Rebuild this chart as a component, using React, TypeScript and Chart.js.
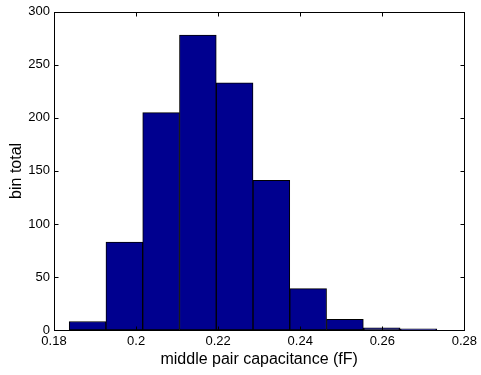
import React, { useEffect, useRef } from "react";
import { Chart, registerables } from "chart.js";

Chart.register(...registerables);

// bin centres (fF) and counts
const binCenters = [0.18818, 0.19714, 0.2061, 0.21506, 0.22402, 0.23298, 0.24194, 0.2509, 0.25986, 0.26882];
const binCounts = [8, 83, 205, 278, 233, 141, 39, 10, 2, 1];
const xTicks = [0.18, 0.2, 0.22, 0.24, 0.26, 0.28];
const yTicks = [0, 50, 100, 150, 200, 250, 300];

const FONT = "'Liberation Sans', Arial, Helvetica, sans-serif";

const boxPlugin = {
  id: "matlabBox",
  afterDraw(chart: any) {
    const { ctx, chartArea } = chart;
    const xs = chart.scales.x;
    const ys = chart.scales.y;
    const l = Math.round(chartArea.left) + 0.5;
    const r = Math.round(chartArea.right) + 0.5;
    const t = Math.round(chartArea.top) + 0.5;
    const b = Math.round(chartArea.bottom) + 0.5;
    ctx.save();
    ctx.strokeStyle = "#000";
    ctx.lineWidth = 1;
    ctx.strokeRect(l, t, r - l, b - t);
    const len = 4;
    ctx.beginPath();
    xTicks.forEach((v) => {
      const px = Math.round(xs.getPixelForValue(v)) + 0.5;
      ctx.moveTo(px, b);
      ctx.lineTo(px, b - len);
      ctx.moveTo(px, t);
      ctx.lineTo(px, t + len);
    });
    yTicks.forEach((v) => {
      const py = Math.round(ys.getPixelForValue(v)) + 0.5;
      ctx.moveTo(l, py);
      ctx.lineTo(l + len, py);
      ctx.moveTo(r, py);
      ctx.lineTo(r - len, py);
    });
    ctx.stroke();
    ctx.restore();
  },
};

export default function App() {
  const ref = useRef<HTMLCanvasElement>(null);
  useEffect(() => {
    if (!ref.current) return;
    const chart = new Chart(ref.current, {
      type: "bar",
      data: {
        datasets: [
          {
            data: binCenters.map((c, i) => ({ x: c, y: binCounts[i] })),
            backgroundColor: "rgb(0,0,143)",
            borderColor: "#000",
            borderWidth: 1,
            borderSkipped: false,
            barPercentage: 1,
            categoryPercentage: 1,
          },
        ],
      },
      options: {
        responsive: false,
        animation: false,
        devicePixelRatio: 1,
        layout: { padding: { top: 5, right: 14, left: 0, bottom: 0 } },
        plugins: { legend: { display: false }, tooltip: { enabled: false } },
        scales: {
          x: {
            type: "linear",
            min: 0.18,
            max: 0.28,
            offset: false,
            afterBuildTicks: (s: any) => {
              s.ticks = xTicks.map((v) => ({ value: v }));
            },
            afterFit: (s: any) => {
              s.height = 45;
            },
            grid: { display: false, drawTicks: false },
            border: { display: false },
            ticks: {
              padding: 4,
              color: "#000",
              font: { family: FONT, size: 13 },
              maxRotation: 0,
              callback: (v: any) => String(Number(Number(v).toFixed(2))),
            },
            title: {
              display: true,
              text: "middle pair capacitance (fF)",
              color: "#000",
              font: { family: FONT, size: 16 },
              padding: { top: 0, bottom: 6 },
            },
          },
          y: {
            min: 0,
            max: 300,
            afterBuildTicks: (s: any) => {
              s.ticks = yTicks.map((v) => ({ value: v }));
            },
            afterFit: (s: any) => {
              s.width = 54;
            },
            grid: { display: false, drawTicks: false },
            border: { display: false },
            ticks: {
              padding: 4,
              color: "#000",
              font: { family: FONT, size: 13 },
            },
            title: {
              display: true,
              text: "bin total",
              color: "#000",
              font: { family: FONT, size: 16 },
              padding: { top: 7, bottom: 0 },
            },
          },
        },
      },
      plugins: [boxPlugin],
    } as any);
    return () => chart.destroy();
  }, []);
  return (
    <div style={{ position: "fixed", left: 0, top: 0, width: 481, height: 375, background: "#fff" }}>
      <canvas ref={ref} width={481} height={375} />
    </div>
  );
}
